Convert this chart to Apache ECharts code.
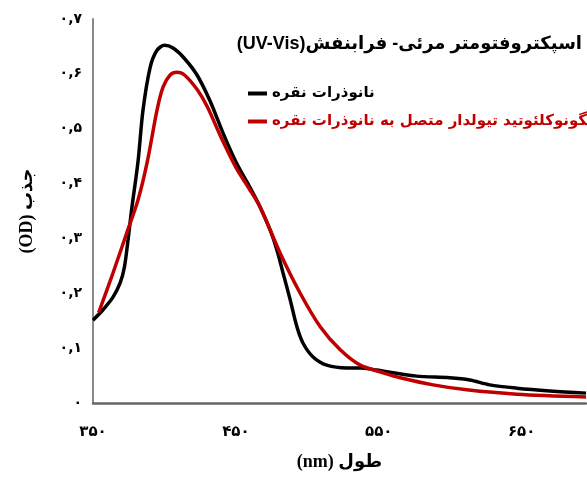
<!DOCTYPE html>
<html>
<head>
<meta charset="utf-8">
<script src="https://cdn.jsdelivr.net/npm/echarts@6/dist/echarts.min.js"></script>
<style>html,body{margin:0;padding:0;background:#fff}#c{width:587px;height:477px}</style>
</head>
<body>
<div id="c"></div>
<script>
// Wavelength (nm) and absorbance (OD)
const silverX = [350,357,364,369,372,374.5,377,381.5,385,390,394.8,400,406,414,423,432,441,450.5,459,467,474,478.7,483,488,492.7,497,504,513.6,527.7,537,548.6,560,576.5,599.6,613.6,627.6,646.5,669.6,695];
const silverY = [0.151,0.170,0.193,0.219,0.248,0.297,0.352,0.440,0.534,0.612,0.643,0.652,0.647,0.628,0.597,0.550,0.492,0.437,0.397,0.357,0.315,0.279,0.237,0.188,0.139,0.109,0.084,0.069,0.064,0.064,0.060,0.055,0.049,0.046,0.042,0.033,0.027,0.022,0.018];
const oligoX = [354,364,373.6,381.5,388,394.8,399,404,408.7,414,423,430,440,450.5,459,467,481,495,509,523,537,553,565,588,611.5,646.5,695];
const oligoY = [0.165,0.237,0.310,0.370,0.440,0.534,0.576,0.598,0.603,0.598,0.571,0.540,0.482,0.427,0.392,0.357,0.273,0.200,0.139,0.097,0.069,0.055,0.046,0.033,0.024,0.016,0.011];
const xTickLabels = [350,450,550,650];
const seriesNames = ['نانوذرات نقره','الیگونوکلئوتید تیولدار متصل به نانوذرات نقره'];
const titleText = 'اسپکتروفتومتر مرئی- فرابنفش(UV-Vis)';
const yName = 'جذب (OD)';
const xName = 'طول (nm)';

const fa = s => String(s).replace(/[0-9]/g, d => '۰۱۲۳۴۵۶۷۸۹'[+d]);
const rtl = s => '\u202B' + s + '\u202C';
const zip = (xs, ys) => xs.map((x, i) => [x, ys[i]]);

const chart = echarts.init(document.getElementById('c'));
chart.setOption({
  animation: false,
  backgroundColor: '#fff',
  title: {
    text: rtl(titleText),
    right: 0, top: 30,
    textStyle: {fontFamily: "'Liberation Sans','DejaVu Sans'", fontWeight: 'bold', fontSize: 18, color: '#000'}
  },
  legend: {
    orient: 'vertical', left: 243, top: 79,
    icon: 'rect', itemWidth: 19, itemHeight: 4, itemGap: 9,
    textStyle: {fontFamily: "'DejaVu Sans'", fontWeight: 'bold', fontSize: 15, lineHeight: 19},
    data: [
      {name: seriesNames[0], textStyle: {color: '#000'}},
      {name: seriesNames[1], textStyle: {color: '#C00000'}}
    ]
  },
  grid: {left: 93, right: 1, top: 19, bottom: 74, outerBoundsMode: 'none', containLabel: false},
  xAxis: {
    type: 'value', min: 350, max: 695, interval: 50,
    axisLine: {show: true, lineStyle: {color: '#666', width: 2.5}},
    axisTick: {show: false},
    splitLine: {show: false},
    axisLabel: {
      margin: 22, color: '#000', fontFamily: "'DejaVu Sans'", fontWeight: 'bold', fontSize: 15,
      formatter: v => xTickLabels.includes(v) ? fa(v) : ''
    },
    name: rtl(xName), nameLocation: 'middle', nameGap: 50,
    nameTextStyle: {fontFamily: "'Liberation Serif','DejaVu Sans'", fontWeight: 'bold', fontSize: 18, color: '#000'}
  },
  yAxis: {
    type: 'value', min: 0, max: 0.7, interval: 0.1,
    axisLine: {show: true, lineStyle: {color: '#888', width: 2}},
    axisTick: {show: false},
    splitLine: {show: false},
    axisLabel: {
      margin: 11, color: '#000', fontFamily: "'DejaVu Sans'", fontWeight: 'bold', fontSize: 14,
      formatter: v => v === 0 ? '۰' : '۰,' + fa(Math.round(v * 10))
    },
    name: rtl(yName), nameLocation: 'middle', nameGap: 57, nameRotate: 90,
    nameTextStyle: {fontFamily: "'Liberation Serif','DejaVu Sans'", fontWeight: 'bold', fontSize: 18, color: '#000'}
  },
  series: [
    {name: seriesNames[0], type: 'line', data: zip(silverX, silverY), smooth: 0.3, showSymbol: false,
     color: '#000', lineStyle: {color: '#000', width: 3.5}},
    {name: seriesNames[1], type: 'line', data: zip(oligoX, oligoY), smooth: 0.3, showSymbol: false,
     color: '#C00000', lineStyle: {color: '#C00000', width: 3.5}}
  ]
});
</script>
</body>
</html>
